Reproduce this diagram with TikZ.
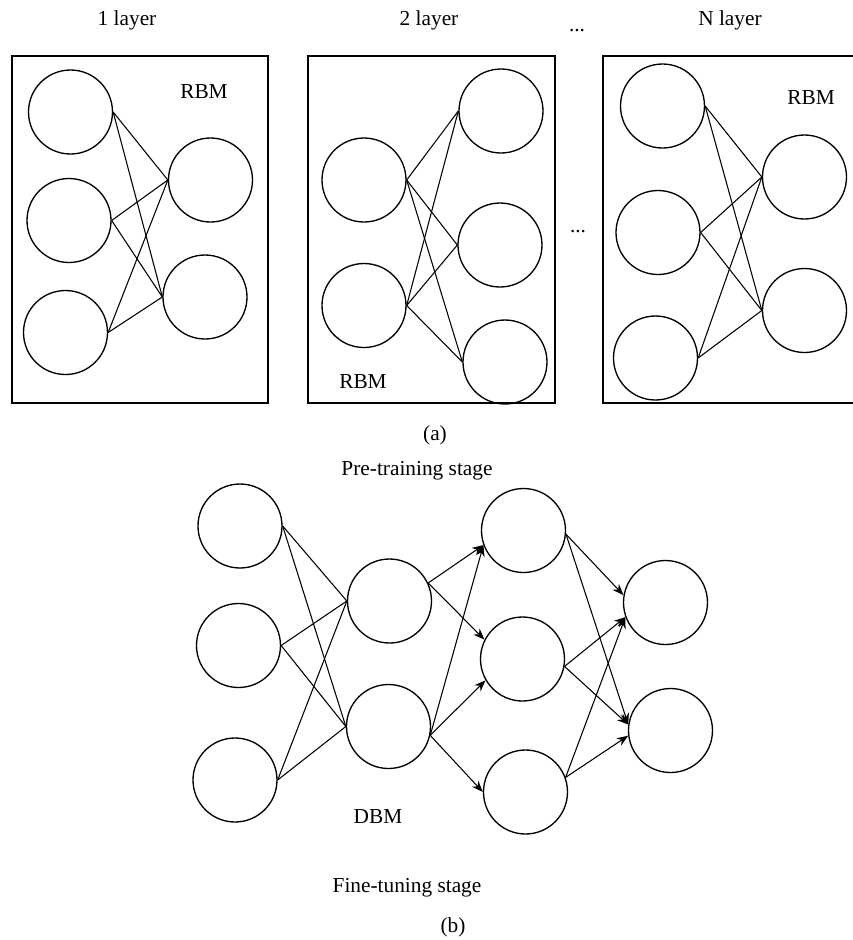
\documentclass[tikz,border=0pt]{standalone}
\usepackage{fontspec}
\setmainfont{Liberation Serif}
\usetikzlibrary{arrows.meta}
\begin{document}
\begin{tikzpicture}[x=0.75pt,y=-0.75pt,
  neuron/.style={circle,draw,line width=1pt,minimum size=63pt,inner sep=0pt},
  lbl/.style={font=\fontsize{16}{19}\selectfont,inner sep=0pt},
  link/.style={line width=0.8pt},
  arr/.style={line width=0.8pt,-{Stealth[length=8.5pt,width=6.5pt]}},
  boxframe/.style={line width=1pt}]
\useasboundingbox (0,0) rectangle (853,940);

% ---------- panel (a) ----------
\node[lbl] (t1) at (127,20) {1 layer};
\node[lbl] (t2) at (429,20) {2 layer};
\node[lbl] (dots1) at (577,31) {...};
\node[lbl] (tN) at (730,20) {N layer};
\node[lbl] (dots2) at (578,232) {...};

\draw[boxframe] (12,56) rectangle (268,403);
\draw[boxframe] (308,56) rectangle (555,403);
\draw[boxframe] (853,56) -- (603,56) -- (603,403) -- (853,403);

\node[lbl] (rbm1) at (204,92) {RBM};
\node[lbl] (rbm2) at (363,382) {RBM};
\node[lbl] (rbm3) at (811,98) {RBM};

% box 1
\node[neuron] (a1l1) at (70.5,112) {};
\node[neuron] (a1l2) at (69,220.5) {};
\node[neuron] (a1l3) at (65.5,332.5) {};
\node[neuron] (a1r1) at (210.5,180) {};
\node[neuron] (a1r2) at (205,297) {};
% box 2
\node[neuron] (a2l1) at (364,180) {};
\node[neuron] (a2l2) at (364,305.5) {};
\node[neuron] (a2r1) at (501,111) {};
\node[neuron] (a2r2) at (500,245) {};
\node[neuron] (a2r3) at (505,362) {};
% box 3
\node[neuron] (a3l1) at (662.5,106) {};
\node[neuron] (a3l2) at (658,232.5) {};
\node[neuron] (a3l3) at (655.5,358) {};
\node[neuron] (a3r1) at (804.5,177) {};
\node[neuron] (a3r2) at (804.5,310.5) {};

\foreach \s in {a1l1,a1l2,a1l3}
  \foreach \t in {a1r1,a1r2}
    \draw[link] (\s.east) -- (\t.west);
\foreach \s in {a2l1,a2l2}
  \foreach \t in {a2r1,a2r2,a2r3}
    \draw[link] (\s.east) -- (\t.west);
\foreach \s in {a3l1,a3l2,a3l3}
  \foreach \t in {a3r1,a3r2}
    \draw[link] (\s.east) -- (\t.west);

\node[lbl] (capa) at (435,435) {(a)};

% ---------- panel (b) ----------
\node[lbl] (pre) at (417,471) {Pre-training stage};

\node[neuron] (b1a) at (240,526) {};
\node[neuron] (b1b) at (238.5,645.5) {};
\node[neuron] (b1c) at (235,780) {};
\node[neuron] (b2a) at (389.5,601) {};
\node[neuron] (b2b) at (388.5,726.5) {};
\node[neuron] (b3a) at (523.5,530.5) {};
\node[neuron] (b3b) at (522.5,659) {};
\node[neuron] (b3c) at (525.5,792) {};
\node[neuron] (b4a) at (665.5,602.5) {};
\node[neuron] (b4b) at (670.5,730.5) {};

\foreach \s in {b1a,b1b,b1c}
  \foreach \t in {b2a,b2b}
    \draw[link] (\s.east) -- (\t.west);

\draw[arr] (b2a.25) -- (b3a.200);
\draw[arr] (b2a.25) -- (b3b.153);
\draw[arr] (b2b.-12) -- (b3a.200);
\draw[arr] (b2b.-12) -- (b3b.210);
\draw[arr] (b2b.-12) -- (b3c.180);

\draw[arr] (b3a.-5) -- (b4a.170);
\draw[arr] (b3a.-5) -- (b4b.172);
\draw[arr] (b3b.-10) -- (b4a.200);
\draw[arr] (b3b.-10) -- (b4b.172);
\draw[arr] (b3c.20) -- (b4a.200);
\draw[arr] (b3c.20) -- (b4b.187);

\node[lbl] (dbm) at (378,817) {DBM};
\node[lbl] (fine) at (407,888) {Fine-tuning stage};
\node[lbl] (capb) at (453,927) {(b)};
\end{tikzpicture}
\end{document}
